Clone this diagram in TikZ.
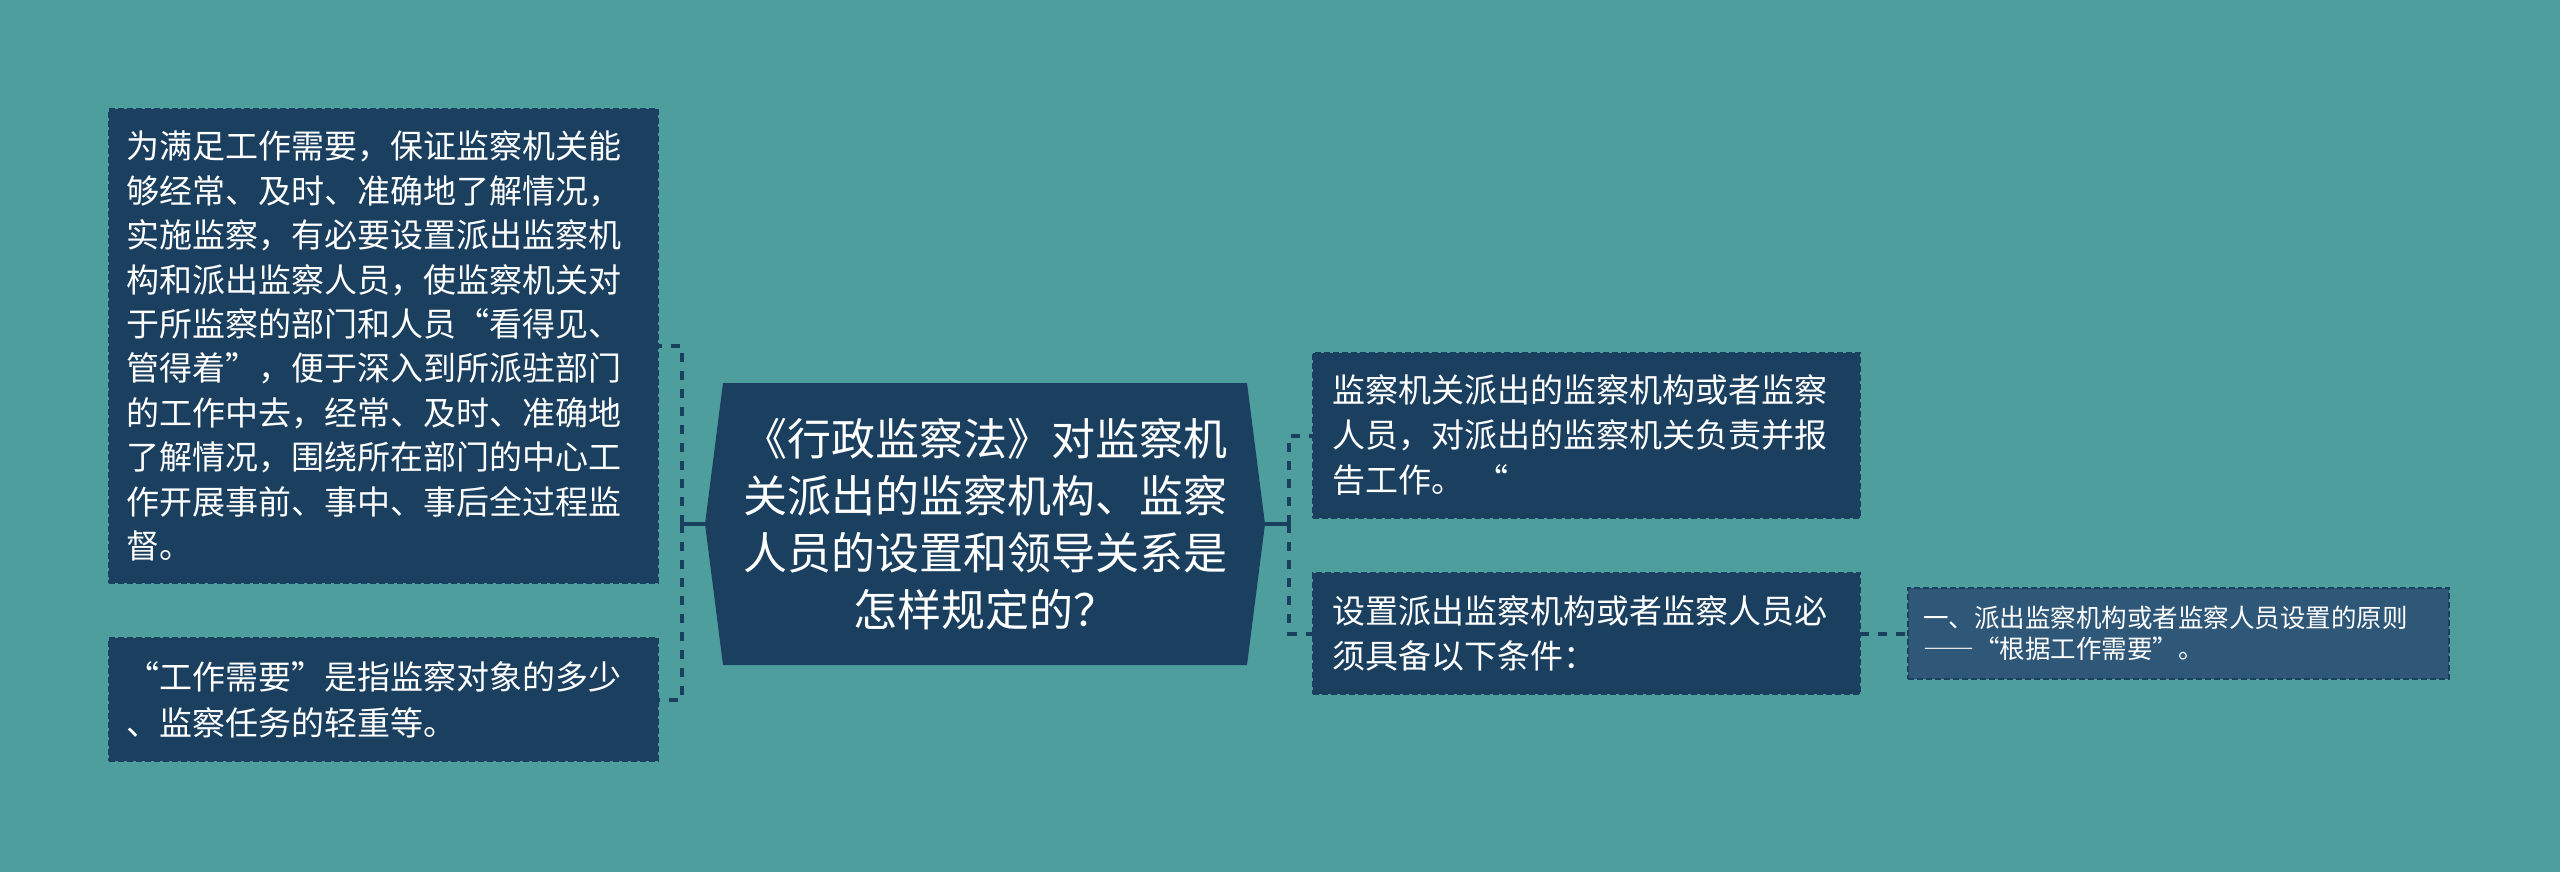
\documentclass[tikz,border=0pt]{standalone}
\usepackage{fontspec}
\newfontfamily\cjk{Noto Sans CJK SC}
\usetikzlibrary{calc,backgrounds}
\definecolor{bgteal}{RGB}{78,158,158}
\definecolor{navy}{RGB}{26,63,95}
\definecolor{lightnavy}{RGB}{47,87,120}
\begin{document}
\begin{tikzpicture}[x=1pt,y=-1pt,
  box/.style={fill=navy, draw=navy, line width=2pt, dash pattern=on 6pt off 3pt,
    text=white, align=left, font={\cjk\fontsize{33}{44.4}\selectfont},
    inner xsep=17pt, inner ysep=0pt, outer sep=0pt,
    minimum width=549pt, text width=515pt},
  rbox/.style={box, inner xsep=19pt, minimum width=547pt, text width=509pt,
    font={\cjk\fontsize{33}{45}\selectfont}},
  sbox/.style={box, fill=lightnavy, inner xsep=15pt, minimum width=541pt, text width=511pt,
    font={\cjk\fontsize{25.5}{31}\selectfont}},
  centertext/.style={text=white, align=center, font={\cjk\fontsize{44}{57}\selectfont},
    inner sep=0pt, outer sep=0pt, minimum width=560pt, minimum height=282pt, text width=500pt},
  solidconn/.style={draw=navy, line width=4pt},
  dconn/.style={draw=navy, line width=4pt, dash pattern=on 9pt off 9pt}
]
\useasboundingbox (0,0) rectangle (2560,872);

\node[centertext] (c) at (985,524) {《行政监察法》对监察机\\关派出的监察机构、监察\\人员的设置和领导关系是\\怎样规定的？};

\node[box, minimum height=474pt] (b1) at (383.5,346) {为满足工作需要，保证监察机关能\\够经常、及时、准确地了解情况，\\实施监察，有必要设置派出监察机\\构和派出监察人员，使监察机关对\\于所监察的部门和人员“看得见、\\管得着”，便于深入到所派驻部门\\的工作中去，经常、及时、准确地\\了解情况，围绕所在部门的中心工\\作开展事前、事中、事后全过程监\\督。};

\node[box, minimum height=123pt, font={\cjk\fontsize{33}{46}\selectfont}] (b2) at (383.5,699.5) {“工作需要”是指监察对象的多少\\、监察任务的轻重等。};

\node[rbox, minimum height=165pt] (ra) at (1586.5,435.5) {监察机关派出的监察机构或者监察\\人员，对派出的监察机关负责并报\\告工作。 “};

\node[rbox, minimum height=121pt] (rb) at (1586.5,633.5) {设置派出监察机构或者监察人员必\\须具备以下条件：};

\node[sbox, minimum height=91pt] (rc) at (2178.5,633.5) {一、派出监察机构或者监察人员设置的原则\\{\addfontfeatures{CharacterWidth=Full}——}“根据工作需要”。};

\begin{scope}[on background layer]
  \fill[bgteal] (0,0) rectangle (2560,872);
  \fill[navy] ($(c.north west)+(18,0)$) -- ($(c.north east)+(-18,0)$) -- (c.east)
    -- ($(c.south east)+(-18,0)$) -- ($(c.south west)+(18,0)$) -- (c.west) -- cycle;
\end{scope}

\coordinate (lj) at ($(c.west)+(-23,0)$);
\coordinate (rj) at ($(c.east)+(24,0)$);
\draw[solidconn] (c.west) -- (lj);
\draw[dconn] (lj) |- (b1.east);
\draw[dconn] (lj) |- (b2.east);
\draw[solidconn] (c.east) -- (rj);
\draw[dconn] (rj) |- (ra.west);
\draw[dconn] (rj) |- (rb.west);
\draw[dconn] (rb.east) -- (rc.west);
\end{tikzpicture}
\end{document}
